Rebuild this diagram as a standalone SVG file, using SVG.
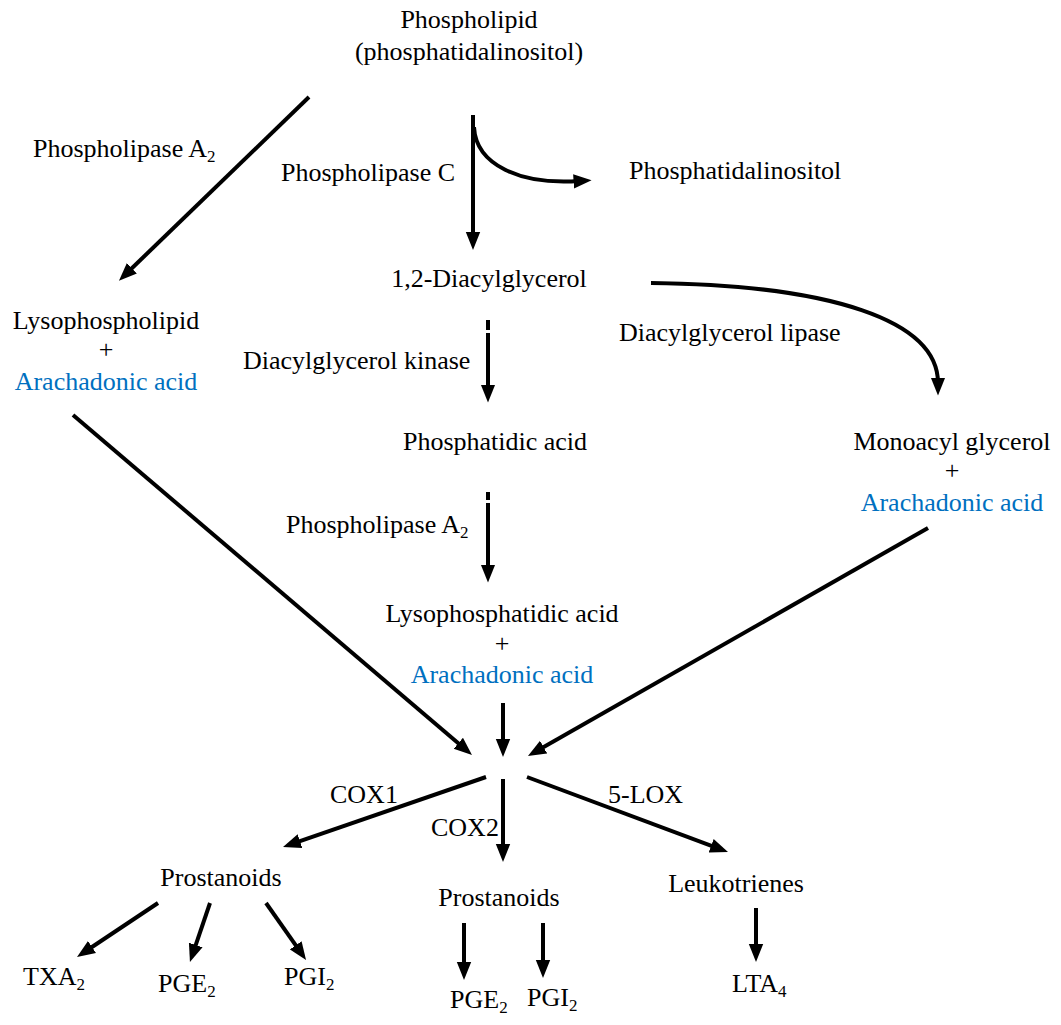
<svg xmlns="http://www.w3.org/2000/svg" width="1061" height="1025" viewBox="0 0 1061 1025">
<style>
text{font-family:"Liberation Serif","Times New Roman",serif;font-size:26px;fill:#000}
.m{text-anchor:middle}
.b{fill:#0070C0}
.s{font-size:17px}
.c{fill:none;stroke:#000;stroke-width:4}
</style>
<defs>
<marker id="ah" viewBox="0 0 10 8" refX="3" refY="4" markerWidth="4.5" markerHeight="4" orient="auto" markerUnits="strokeWidth">
<path d="M0,0 L10,4 L0,8 z" fill="#000"/>
</marker>
</defs>
<rect width="1061" height="1025" fill="#fff"/>
<g id="connectors">
<path class="c" marker-end="url(#ah)" d="M309,97 L128,272"/>
<path class="c" marker-end="url(#ah)" d="M473,115 V237.4"/>
<path class="c" marker-end="url(#ah)" d="M474,127 C476,165 520,185 579,181"/>
<path class="c" marker-end="url(#ah)" d="M651,283 C830,285 938,320 938,383"/>
<path class="c" marker-end="url(#ah)" d="M488,320 V330 M488,333 V390"/>
<path class="c" marker-end="url(#ah)" d="M488,492 V500 M488,503 V570"/>
<path class="c" marker-end="url(#ah)" d="M73,415 L462.4,746.8"/>
<path class="c" marker-end="url(#ah)" d="M503,703 V744.4"/>
<path class="c" marker-end="url(#ah)" d="M928,528 L538.9,749.8"/>
<path class="c" marker-end="url(#ah)" d="M486,777 L294.9,842.9"/>
<path class="c" marker-end="url(#ah)" d="M503,779 V849.4"/>
<path class="c" marker-end="url(#ah)" d="M527,777 L716.2,847.6"/>
<path class="c" marker-end="url(#ah)" d="M158,903 L87.5,950"/>
<path class="c" marker-end="url(#ah)" d="M210,903 L194,950.1"/>
<path class="c" marker-end="url(#ah)" d="M266,903 L298.8,949.7"/>
<path class="c" marker-end="url(#ah)" d="M464,923 V967.4"/>
<path class="c" marker-end="url(#ah)" d="M543,923 V965.4"/>
<path class="c" marker-end="url(#ah)" d="M756,908 V949.4"/>
</g>
<g id="phospholipid"><text class="m" x="469" y="28">Phospholipid</text><text class="m" x="469" y="60">(phosphatidalinositol)</text></g>
<g id="pla2-top"><text x="33" y="157">Phospholipase A<tspan class="s" dy="5">2</tspan></text></g>
<g id="plc"><text x="281" y="181">Phospholipase C</text></g>
<g id="phosphatidalinositol"><text x="629" y="179">Phosphatidalinositol</text></g>
<g id="diacylglycerol"><text class="m" x="489" y="287">1,2-Diacylglycerol</text></g>
<g id="lysophospholipid"><text class="m" x="106" y="329">Lysophospholipid</text><text class="m" x="106" y="358">+</text><text class="m b" x="106" y="390">Arachadonic acid</text></g>
<g id="dag-lipase"><text x="619" y="341">Diacylglycerol lipase</text></g>
<g id="dag-kinase"><text x="243" y="369">Diacylglycerol kinase</text></g>
<g id="phosphatidic-acid"><text class="m" x="495" y="450">Phosphatidic acid</text></g>
<g id="monoacyl"><text class="m" x="952" y="450">Monoacyl glycerol</text><text class="m" x="952" y="479">+</text><text class="m b" x="952" y="511">Arachadonic acid</text></g>
<g id="pla2-mid"><text x="286" y="533">Phospholipase A<tspan class="s" dy="5">2</tspan></text></g>
<g id="lysophosphatidic"><text class="m" x="502" y="622">Lysophosphatidic acid</text><text class="m" x="502" y="652">+</text><text class="m b" x="502" y="683">Arachadonic acid</text></g>
<g id="cox1"><text x="330" y="803">COX1</text></g>
<g id="lox"><text x="608" y="803">5-LOX</text></g>
<g id="cox2"><text x="431" y="836">COX2</text></g>
<g id="prostanoids1"><text class="m" x="221" y="886">Prostanoids</text></g>
<g id="prostanoids2"><text class="m" x="499" y="906">Prostanoids</text></g>
<g id="leukotrienes"><text class="m" x="736" y="892">Leukotrienes</text></g>
<g id="txa2"><text x="23" y="985">TXA<tspan class="s" dy="5">2</tspan></text></g>
<g id="pge2a"><text x="158" y="992">PGE<tspan class="s" dy="5">2</tspan></text></g>
<g id="pgi2a"><text x="284" y="985">PGI<tspan class="s" dy="5">2</tspan></text></g>
<g id="pge2b"><text x="450" y="1008">PGE<tspan class="s" dy="5">2</tspan></text></g>
<g id="pgi2b"><text x="527" y="1006">PGI<tspan class="s" dy="5">2</tspan></text></g>
<g id="lta4"><text x="732" y="992">LTA<tspan class="s" dy="5">4</tspan></text></g>
</svg>
